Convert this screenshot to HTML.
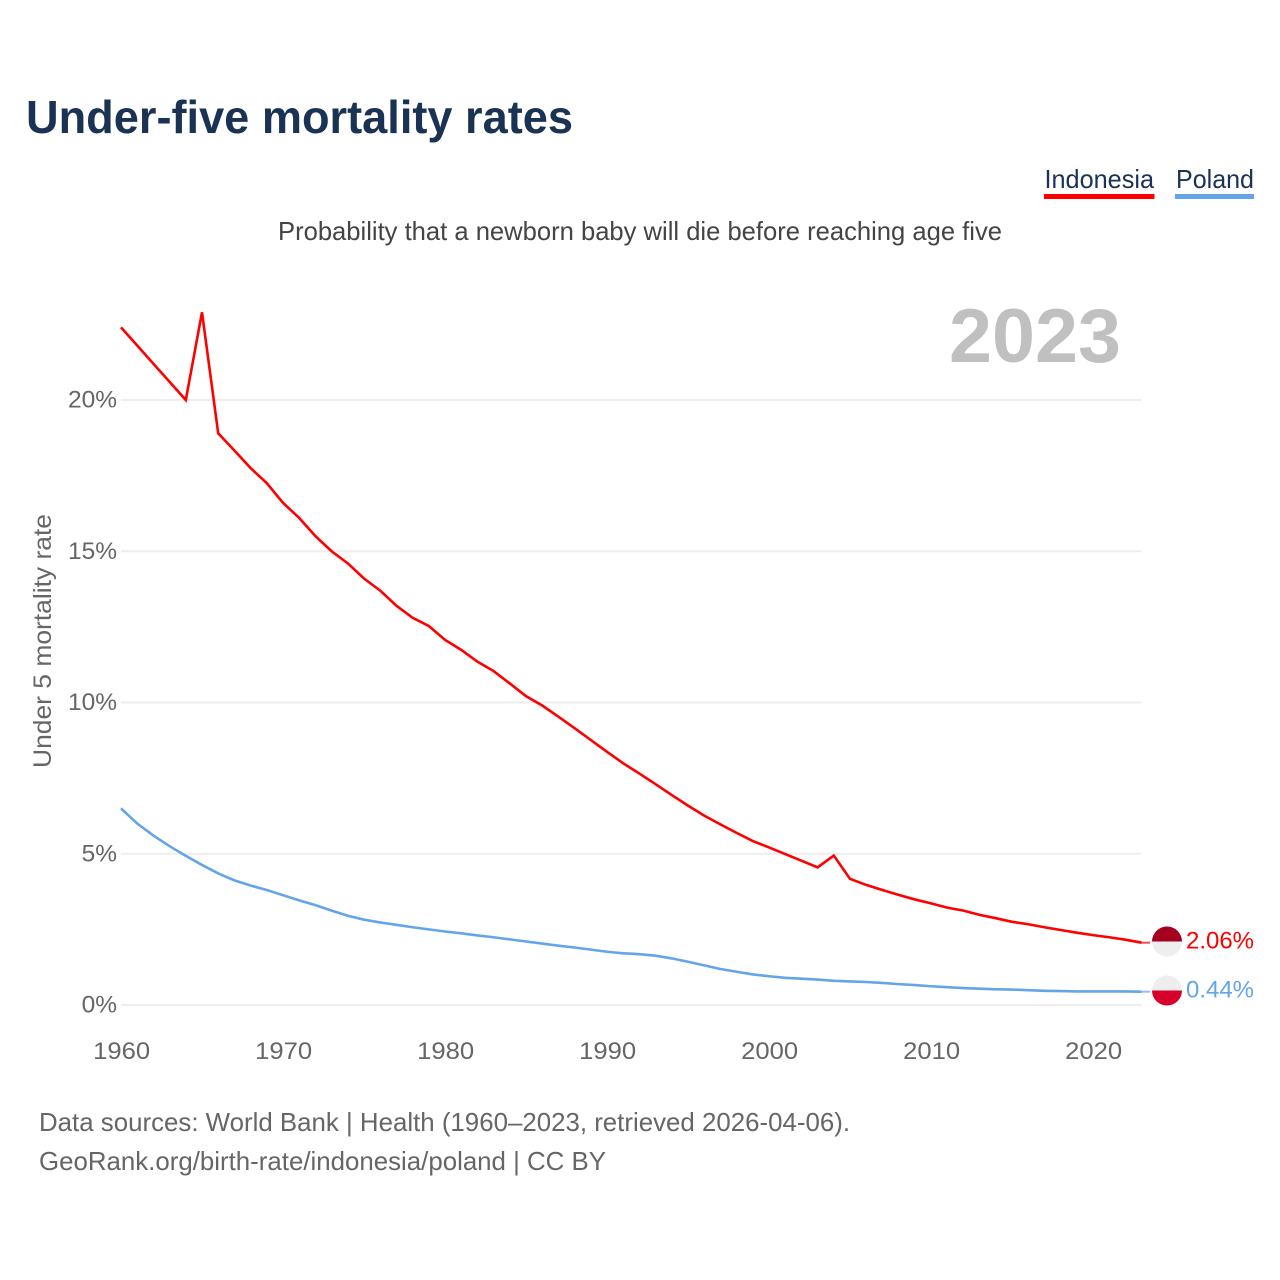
<!DOCTYPE html>
<html lang="en">
<head>
<meta charset="utf-8">
<title>Under-five mortality rates</title>
<style>
html,body{margin:0;padding:0;background:#fff;width:1280px;height:1280px;overflow:hidden}
svg{display:block}
text{font-family:"Liberation Sans",sans-serif}
</style>
</head>
<body>
<svg id="chart" xmlns="http://www.w3.org/2000/svg" width="1280" height="1280" viewBox="0 0 1280 1280">
  <text x="26" y="133" font-size="46" font-weight="700" fill="#1a3253" textLength="547" lengthAdjust="spacingAndGlyphs">Under-five mortality rates</text>

  <g>
    <text x="1044.5" y="188" font-size="26" fill="#1a3253" textLength="109.5" lengthAdjust="spacingAndGlyphs">Indonesia</text>
    <rect x="1044" y="194" width="110.5" height="5" fill="#ff0000"/>
  </g>
  <g>
    <text x="1176" y="188" font-size="26" fill="#1a3253" textLength="78" lengthAdjust="spacingAndGlyphs">Poland</text>
    <rect x="1175" y="194" width="79" height="5" fill="#64a5ea"/>
  </g>

  <text x="278" y="240" font-size="26" fill="#444" textLength="724" lengthAdjust="spacingAndGlyphs">Probability that a newborn baby will die before reaching age five</text>
  <text x="949" y="362" font-size="76" font-weight="700" fill="#c0c0c0" textLength="172" lengthAdjust="spacingAndGlyphs">2023</text>
  <text x="0" y="0" transform="translate(51,768) rotate(-90)" font-size="25" fill="#666" textLength="254" lengthAdjust="spacingAndGlyphs">Under 5 mortality rate</text>

  <g id="grid"></g>
  <g id="yticks"></g>
  <g id="xticks"></g>
  <g id="series"></g>
  <g id="ends"></g>

  <text x="39" y="1131" font-size="26" fill="#666" textLength="811" lengthAdjust="spacingAndGlyphs">Data sources: World Bank | Health (1960–2023, retrieved 2026-04-06).</text>
  <text x="39" y="1170" font-size="26" fill="#666" textLength="567" lengthAdjust="spacingAndGlyphs">GeoRank.org/birth-rate/indonesia/poland | CC BY</text>
</svg>
<script>
const years = [1960,1961,1962,1963,1964,1965,1966,1967,1968,1969,1970,1971,1972,1973,1974,1975,1976,1977,1978,1979,1980,1981,1982,1983,1984,1985,1986,1987,1988,1989,1990,1991,1992,1993,1994,1995,1996,1997,1998,1999,2000,2001,2002,2003,2004,2005,2006,2007,2008,2009,2010,2011,2012,2013,2014,2015,2016,2017,2018,2019,2020,2021,2022,2023];
const indonesia = [22.4,21.8,21.2,20.6,20.0,22.9,18.9,18.33,17.75,17.25,16.6,16.1,15.5,15.0,14.6,14.1,13.7,13.2,12.8,12.53,12.07,11.74,11.35,11.04,10.63,10.21,9.9,9.53,9.15,8.76,8.37,7.99,7.65,7.3,6.94,6.59,6.26,5.97,5.69,5.42,5.21,4.99,4.77,4.55,4.94,4.17,3.97,3.8,3.64,3.49,3.36,3.22,3.12,2.98,2.87,2.75,2.67,2.57,2.48,2.39,2.31,2.24,2.16,2.06];
const poland = [6.5,6.0,5.6,5.25,4.93,4.63,4.35,4.12,3.95,3.8,3.63,3.46,3.3,3.12,2.95,2.82,2.73,2.65,2.57,2.5,2.43,2.37,2.3,2.24,2.17,2.1,2.03,1.96,1.9,1.83,1.76,1.71,1.68,1.63,1.54,1.43,1.31,1.19,1.1,1.01,0.95,0.9,0.87,0.84,0.8,0.78,0.76,0.73,0.69,0.66,0.62,0.59,0.56,0.54,0.52,0.51,0.49,0.47,0.46,0.45,0.45,0.45,0.45,0.44];
const yTickValues = [0,5,10,15,20];
const yTickLabels = ['0%','5%','10%','15%','20%'];
const xTickValues = [1960,1970,1980,1990,2000,2010,2020];
const xTickLabels = ['1960','1970','1980','1990','2000','2010','2020'];
const indonesiaEndLabel = '2.06%';
const polandEndLabel = '0.44%';

const NS = 'http://www.w3.org/2000/svg';
function xScale(year){ return 121 + (year - 1960) * 16.2; }
function yScale(pct){ return 1005 - pct * 30.25; }
function make(tag, parent, attrs){
  const el = document.createElementNS(NS, tag);
  Object.keys(attrs).forEach(function(k){ el.setAttribute(k, attrs[k]); });
  parent.appendChild(el);
  return el;
}
const grid = document.getElementById('grid');
const yticks = document.getElementById('yticks');
const xticks = document.getElementById('xticks');
const series = document.getElementById('series');
const ends = document.getElementById('ends');

yTickValues.forEach(function(v, i){
  const line = make('line', grid, {x1: 121, x2: 1141.6, y1: yScale(v), y2: yScale(v), stroke: '#eeeeee', 'stroke-width': 2});
  
  
  const t = make('text', yticks, {x: 117, y: yScale(v) + 7.7, 'text-anchor': 'end', 'font-size': 24.5, fill: '#666'});
  t.textContent = yTickLabels[i];
  
  
});
xTickValues.forEach(function(v, i){
  const t = make('text', xticks, {x: xScale(v) + 0.7, y: 1059, 'text-anchor': 'middle', 'font-size': 24.5, fill: '#666', textLength: 57, lengthAdjust: 'spacingAndGlyphs'});
  t.textContent = xTickLabels[i];
  
  
});

function drawSeries(values, color, name){
  const pts = values.map(function(v, i){ return xScale(years[i]).toFixed(2) + ',' + yScale(v).toFixed(2); }).join(' ');
  const line = make('polyline', series, {points: pts, fill: 'none', stroke: color, 'stroke-width': 2.6, 'stroke-linejoin': 'miter'});
  
  
}
drawSeries(indonesia, '#ff0000', 'line-indonesia');
drawSeries(poland, '#64a5ea', 'line-poland');

function drawEnd(values, color, label, topColor, bottomColor, flagY, name){
  const lastY = yScale(values[values.length - 1]);
  const lastX = xScale(years[years.length - 1]);
  const stub = make('line', ends, {x1: lastX, x2: 1150, y1: lastY, y2: lastY, stroke: color, 'stroke-width': 2, opacity: 0.7});
  
  
  const cx = 1167, r = 15;
  const top = make('path', ends, {d: 'M' + (cx - r) + ' ' + flagY + 'A' + r + ' ' + r + ' 0 0 1 ' + (cx + r) + ' ' + flagY + 'Z', fill: topColor});
  
  
  const bottom = make('path', ends, {d: 'M' + (cx - r) + ' ' + flagY + 'A' + r + ' ' + r + ' 0 0 0 ' + (cx + r) + ' ' + flagY + 'Z', fill: bottomColor});
  
  
  const t = make('text', ends, {x: 1186, y: flagY + 7, 'font-size': 24.5, fill: color, textLength: 68, lengthAdjust: 'spacingAndGlyphs'});
  t.textContent = label;
  
  
}
drawEnd(indonesia, '#ff0000', indonesiaEndLabel, '#a5001f', '#eeeeee', 941.5, 'indonesia');
drawEnd(poland, '#64a5ea', polandEndLabel, '#eeeeee', '#d7002a', 990.5, 'poland');
</script>
</body>
</html>
